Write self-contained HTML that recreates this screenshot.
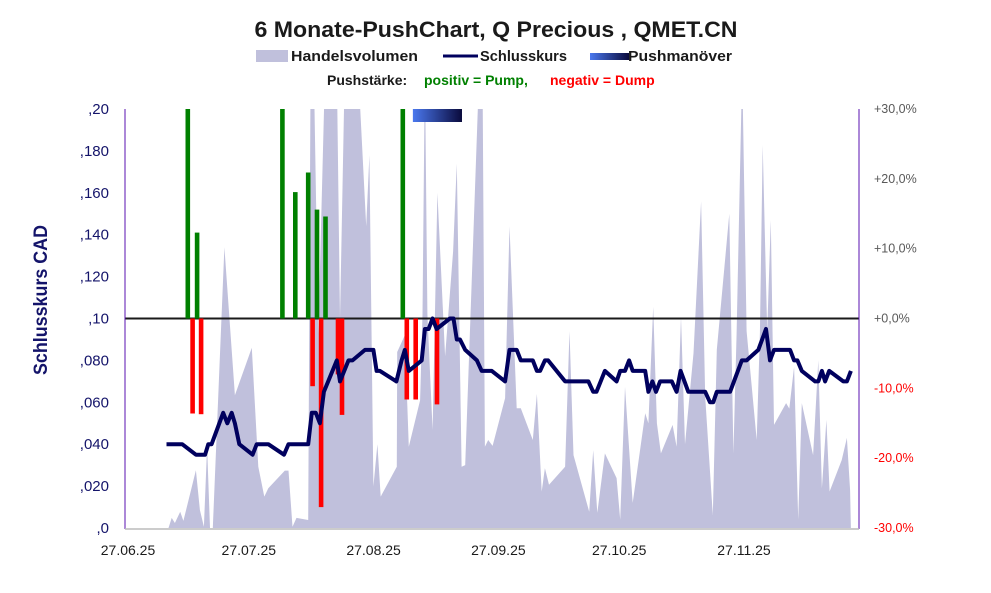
<!DOCTYPE html>
<html><head><meta charset="utf-8"><style>
html,body{margin:0;padding:0;background:#fff;}
svg{display:block;font-family:"Liberation Sans",sans-serif;}
</style></head><body>
<svg id="chart" width="991" height="593" viewBox="0 0 991 593" xmlns="http://www.w3.org/2000/svg">
<defs>
<linearGradient id="pg" x1="0" x2="1" y1="0" y2="0"><stop offset="0" stop-color="#4a78ee"/><stop offset="1" stop-color="#0a0a3c"/></linearGradient>
<clipPath id="plotclip"><rect x="125" y="109" width="734" height="420"/></clipPath>
</defs>
<text x="496" y="37" text-anchor="middle" font-size="22" font-weight="bold" fill="#1a1a1a" textLength="483" lengthAdjust="spacingAndGlyphs">6 Monate-PushChart, Q Precious , QMET.CN</text>
<g>
<rect x="256" y="50" width="32" height="12" fill="#c0c0dc"/>
<text x="291" y="61" font-size="15" font-weight="bold" fill="#1a1a1a" textLength="127" lengthAdjust="spacingAndGlyphs">Handelsvolumen</text>
<line x1="443" y1="56" x2="478" y2="56" stroke="#00005e" stroke-width="3"/>
<text x="480" y="61" font-size="15" font-weight="bold" fill="#1a1a1a" textLength="87" lengthAdjust="spacingAndGlyphs">Schlusskurs</text>
<rect x="590" y="53" width="39" height="7" fill="url(#pg)"/>
<text x="628" y="61" font-size="15" font-weight="bold" fill="#1a1a1a" textLength="104" lengthAdjust="spacingAndGlyphs">Pushmanöver</text>
<text y="85" font-size="14" font-weight="bold"><tspan x="327" fill="#1a1a1a">Pushstärke:</tspan><tspan x="424" fill="#008000">positiv = Pump,</tspan><tspan x="550" fill="#ff0000">negativ = Dump</tspan></text>
</g>
<text transform="translate(47,300) rotate(-90)" text-anchor="middle" font-size="19" font-weight="bold" fill="#14146a" textLength="150" lengthAdjust="spacingAndGlyphs">Schlusskurs CAD</text>
<g id="plot" clip-path="url(#plotclip)"></g>
<g id="axes"></g>
</svg>
<script>
const volDays=[10.8,11.6,12.4,13.7,14.5,17.6,18.6,19.6,20.4,21.1,21.8,24.7,27.3,31.5,33.1,34.6,35.6,39.7,40.6,41.6,42.6,45.5,46.1,46.9,48,49.7,52.6,53.4,54.6,57.9,59.9,60.7,61.7,62.7,63.5,67.5,67.6,69.5,70.5,73.3,73.9,74.5,75.1,76.4,77.6,79.5,81.5,82.4,83.6,84.5,88,88.8,89.4,90.2,91.3,94.4,95.5,97.3,98.3,101.3,102.3,103.5,104.3,105.3,109.3,110.4,111.4,115.3,116.3,117.3,119.2,122.1,123,124.2,126.1,129.2,130,131.2,132.1,133.1,136,137,138.1,139.1,141.2,143.1,144.1,146,147,150.1,151.1,151.9,153.3,154.4,156.9,157.7,158.4,159.5,160.4,161.2,164.2,165,166.2,167.2,168.1,170.9,172.2,173.1,174.2,175,178,179.3,180.1,180.3];
const volValues=[0,2.4,1.2,3.9,1.7,13.8,4.3,0.3,19.4,0,0,67,31.7,43,14.6,7.5,9.5,13.7,13.7,0.3,2.4,1.9,110,110,46.5,110,110,50,110,110,72,89,9.9,20,7.5,14.6,42,46,19.4,30.5,51,110,51,23.4,80,41,66,87,14.6,15,110,110,19.4,21,19.6,31,72,28.6,28.6,21,32,8.7,14.3,10.3,14.6,47,17.4,3.9,18.6,3.6,17.8,11.9,2,33.7,6,27.4,25,52.8,25,17.8,24.6,19.4,50.4,20,41.7,78,31.3,3.1,42.5,75,17.8,46.5,110,47,21,46.5,91.4,47,73.5,24.6,29.8,28.5,38.5,2,29.8,17.4,40,9.5,25.8,8.7,16.2,21.5,9,0];
const priceDays=[10.3,14.2,17.6,19.9,20.7,21.5,24.4,25.4,26.5,27.3,28.4,31.7,32.7,35.6,39.5,40.6,45.5,46.4,47.4,48.4,49.4,52.6,53.4,55.5,56.5,59.6,61.7,62.5,63.3,67.4,68.7,69.5,70.5,73.7,74.5,75.4,76.4,77.4,80.7,81.6,82.4,83.2,84.5,87.4,88.6,91.1,94.4,95.5,97.3,98.3,101.3,102.3,103.1,104.3,105.1,109.3,115.1,116.3,117.1,119.2,122.1,123,124.2,125.2,126.1,129.2,130,131,131.9,132.9,135.8,137,138,139.9,144.1,145.3,146.1,147,150.3,153.2,154.4,157.3,159.2,160.2,161.2,165.2,166.2,167,168.1,171.4,172.2,173.1,173.9,174.9,178.4,179.3,180.3];
const priceValues=[0.04,0.04,0.035,0.035,0.04,0.04,0.055,0.05,0.055,0.05,0.04,0.035,0.04,0.04,0.035,0.04,0.04,0.055,0.055,0.05,0.065,0.08,0.07,0.08,0.08,0.085,0.085,0.075,0.075,0.07,0.08,0.085,0.075,0.08,0.095,0.095,0.1,0.095,0.1,0.1,0.09,0.09,0.085,0.08,0.075,0.075,0.07,0.085,0.085,0.08,0.08,0.075,0.075,0.08,0.08,0.07,0.07,0.065,0.065,0.075,0.07,0.075,0.075,0.08,0.075,0.075,0.065,0.07,0.065,0.07,0.07,0.065,0.075,0.065,0.065,0.06,0.06,0.065,0.065,0.08,0.08,0.085,0.095,0.08,0.085,0.085,0.08,0.08,0.075,0.07,0.07,0.075,0.07,0.075,0.07,0.07,0.075];
const pushDays=[15.6,17.9,39.1,42.3,45.5,47.7,49.8,69,16.8,18.9,46.6,48.7,52.9,53.9,70,72.2,77.5];
const pushValues=[32,12.3,32,18.1,20.9,15.6,14.6,32,-13.6,-13.7,-9.7,-27,-8,-13.8,-11.6,-11.6,-12.3];
const maneuverStart=71.5, maneuverEnd=83.7;
const leftTicks=[",0",",020",",040",",060",",080",",10",",120",",140",",160",",180",",20"];
const rightTicks=["-30,0%","-20,0%","-10,0%","+0,0%","+10,0%","+20,0%","+30,0%"];
const xTickLabels=["27.06.25","27.07.25","27.08.25","27.09.25","27.10.25","27.11.25"];
const xTickDays=[0,30,61,92,122,153];

const NS="http://www.w3.org/2000/svg";
const X0=125,X1=859,YT=109,YB=528;
const pxPerDay=616/153;
const xS=d=>X0+d*pxPerDay;
const yP=v=>YB-(v/0.2)*(YB-YT);
const yPct=p=>(YT+YB)/2-p*(YB-YT)/60;
const yVol=v=>YB-v*(YB-YT)/100;
function mk(tag,attrs,parent){const e=document.createElementNS(NS,tag);for(const k in attrs)e.setAttribute(k,attrs[k]);parent.appendChild(e);return e;}
const plot=document.getElementById('plot'),axes=document.getElementById('axes');

let d='M'+xS(volDays[0])+','+YB;
volDays.forEach((dd,i)=>{d+=' L'+xS(dd).toFixed(1)+','+yVol(volValues[i]).toFixed(1);});
d+=' L'+xS(volDays[volDays.length-1])+','+YB+' Z';
const va=mk('path',{d:d,fill:'#c0c0dc'},plot);



const zl=mk('line',{x1:X0,x2:X1,y1:yPct(0),y2:yPct(0),stroke:'#1a1a1a','stroke-width':2},plot);



pushDays.forEach((dd,i)=>{
  const v=pushValues[i];const y0=yPct(0),y1=yPct(v);
  const b=mk('rect',{x:(xS(dd)-2.3).toFixed(1),y:Math.min(y0,y1).toFixed(1),width:4.6,height:Math.abs(y1-y0).toFixed(1),fill:v>=0?'#008000':'#ff0000'},plot);
  
  
});

const pm=mk('rect',{x:xS(maneuverStart),y:YT,width:xS(maneuverEnd)-xS(maneuverStart),height:13,fill:'url(#pg)'},plot);



const pts=priceDays.map((dd,i)=>xS(dd).toFixed(1)+','+yP(priceValues[i]).toFixed(1)).join(' ');
const pl=mk('polyline',{points:pts,fill:'none',stroke:'#00005e','stroke-width':4,'stroke-linejoin':'round'},plot);



const la=mk('line',{x1:X0,x2:X0,y1:YT,y2:YB+1,stroke:'#5a10b0','stroke-width':1},axes);


const ra=mk('line',{x1:X1,x2:X1,y1:YT,y2:YB+1,stroke:'#5a10b0','stroke-width':1},axes);


const xa=mk('line',{x1:X0,x2:X1,y1:YB+1,y2:YB+1,stroke:'#bbbbbb','stroke-width':1.5},axes);



leftTicks.forEach((t,i)=>{
  const e=mk('text',{x:109,y:(yP(i*0.02)+5).toFixed(1),'text-anchor':'end','font-size':15,fill:'#14146a'},axes);
  e.textContent=t;
  
  
});
rightTicks.forEach((t,i)=>{
  const p=-30+i*10;
  const e=mk('text',{x:874,y:(yPct(p)+4).toFixed(1),'font-size':12.5,fill:p<0?'#ff0000':'#595959'},axes);
  e.textContent=t;
  
  
});
xTickLabels.forEach((t,i)=>{
  const e=mk('text',{x:(xS(xTickDays[i])+3).toFixed(1),y:555,'text-anchor':'middle','font-size':14,fill:'#1a1a1a'},axes);
  e.textContent=t;
  
  
});
</script>
</body></html>
